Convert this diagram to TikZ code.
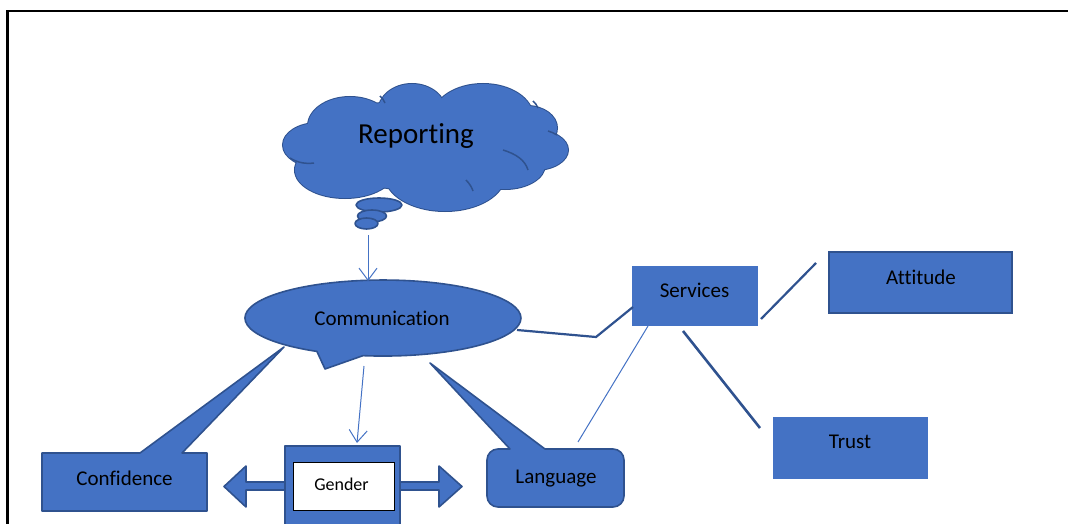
\documentclass[tikz,border=0pt]{standalone}
\usepackage{fontspec}
\setmainfont{Carlito}[Ligatures=NoCommon]
\usetikzlibrary{arrows.meta,shapes.geometric}
\definecolor{obl}{HTML}{4472C4}
\definecolor{odk}{HTML}{2F528F}
\begin{document}
\begin{tikzpicture}[x=1pt,y=-1pt,
  shp/.style={fill=obl, draw=odk, line width=1.6pt, line join=round},
  boxnode/.style={fill=obl, draw=none, inner sep=0pt, outer sep=0pt},
  lbl/.style={font=\fontsize{21}{25}\selectfont, text=black, anchor=base, inner sep=0pt},
  thickln/.style={draw=odk, line width=2.2pt},
  thinln/.style={draw=obl, line width=1pt},
  arr/.style={draw=obl, line width=1pt, -{Straight Barb[length=12pt,width=18pt]}},
  cloudline/.style={draw=odk, line width=2pt},
  innerline/.style={draw=odk, line width=1.5pt},
]
\useasboundingbox (0,0) rectangle (1068,524);
% frame
\draw[line width=2.2pt] (7.5,524) -- (7.5,11) -- (1068,11);

% ---------- cloud (Reporting) ----------
\def\lobes{318/145/35/22, 350/126/42/29, 412/112/34/28, 483/117/50/33, 527/128/30/22, 535/150/33/20, 505/165/40/24, 445/175/60/36, 345/170/50/28, 420/145/110/45}
\foreach \x/\y/\a/\b in \lobes {\draw[cloudline] (\x,\y) ellipse[x radius=\a, y radius=\b];}
\foreach \x/\y/\a/\b in \lobes {\fill[obl] (\x,\y) ellipse[x radius=\a, y radius=\b];}
% inner arcs
\draw[innerline] (290,158) .. controls (298,163) and (306,164) .. (314,163);
\draw[innerline] (503,150) .. controls (516,154) and (525,160) .. (528,170);
\draw[innerline] (466,180) .. controls (470,184) and (472,188) .. (473,191);
\draw[innerline] (533,101) .. controls (535,103) and (537,105) .. (538,108);
\draw[innerline] (548,131) .. controls (551,132) and (554,133) .. (557,135);
\draw[innerline] (380,96) .. controls (382,98) and (384,100) .. (385,103);
\node[lbl, font=\fontsize{29}{34}\selectfont] (rep) at (416,144) {Reporting};
% thought bubbles
\draw[shp] (379,205) ellipse[x radius=23, y radius=7];
\draw[shp] (372,216) ellipse[x radius=14.5, y radius=6];
\draw[shp] (366.5,223.5) ellipse[x radius=11.5, y radius=5.5];
\coordinate (bub) at (368,235);

% ---------- callout boxes ----------
% Confidence
\draw[shp] (42,453) -- (140,453) -- (284,347) -- (182,453) -- (207,453) -- (207,511) -- (42,511) -- cycle;
\node[lbl] (conf) at (124.5,485) {Confidence};
% Language
\draw[shp] (545,449) -- (430,363) -- (510,449) -- (500,449) [rounded corners=11pt] -- (487,449) -- (487,507) -- (624,507) -- (624,449) -- (570,449) [sharp corners] -- cycle;
\node[lbl] (lang) at (556,483) {Language};

% ---------- Communication ellipse callout ----------
\draw[shp] (316.9,351.4) arc[start angle=118.6, end angle=458.3, x radius=138, y radius=38] -- (325,369) -- cycle;
\node[lbl] (comm) at (382,325) {Communication};
\coordinate (commtop) at (368,281);
\coordinate (commlow) at (364,366);
\coordinate (commright) at (517,330);

% ---------- Gender ----------
\draw[shp] (285,482) -- (246,482) -- (246,466) -- (224,486.5) -- (246,507) -- (246,490) -- (285,490) -- cycle;
\draw[shp] (400,482) -- (439,482) -- (439,466) -- (462,486.5) -- (439,507) -- (439,490) -- (400,490) -- cycle;
\draw[shp] (285,540) -- (285,446) -- (400,446) -- (400,540);
\fill[obl] (286,447) rectangle (399,540);
\draw[fill=white, draw=black, line width=1pt] (293,462) rectangle (394,510);
\node[lbl, font=\fontsize{18}{22}\selectfont] (gend) at (341.5,490) {Gender};
\coordinate (gendtop) at (357,443);

% ---------- right boxes ----------
\node[boxnode, minimum width=126pt, minimum height=60pt] (serv) at (695,296) {};
\node[lbl] (servl) at (694.5,297) {Services};
\node[boxnode, draw=odk, line width=1.8pt, minimum width=183pt, minimum height=61pt] (att) at (920.5,282.5) {};
\node[lbl] (attl) at (921,284) {Attitude};
\node[boxnode, minimum width=155pt, minimum height=62pt] (trust) at (850.5,448) {};
\node[lbl] (trustl) at (850,448) {Trust};

% ---------- connectors ----------
\draw[arr] (bub) -- (commtop);
\draw[arr] (commlow) -- (gendtop);
\coordinate (bend) at (596,337);
\coordinate (servin) at (633,307);
\draw[thickln] (commright) -- (bend) -- (servin);
\coordinate (langtop) at (578,442);
\coordinate (servlow) at (648,326);
\draw[thinln] (langtop) -- (servlow);
\coordinate (servlow2) at (683,331);
\coordinate (trusttop) at (760,428);
\draw[thickln, line width=2.6pt] (servlow2) -- (trusttop);
\coordinate (servright) at (761,319);
\coordinate (attleft) at (816,263);
\draw[thickln] (servright) -- (attleft);
\end{tikzpicture}
\end{document}
